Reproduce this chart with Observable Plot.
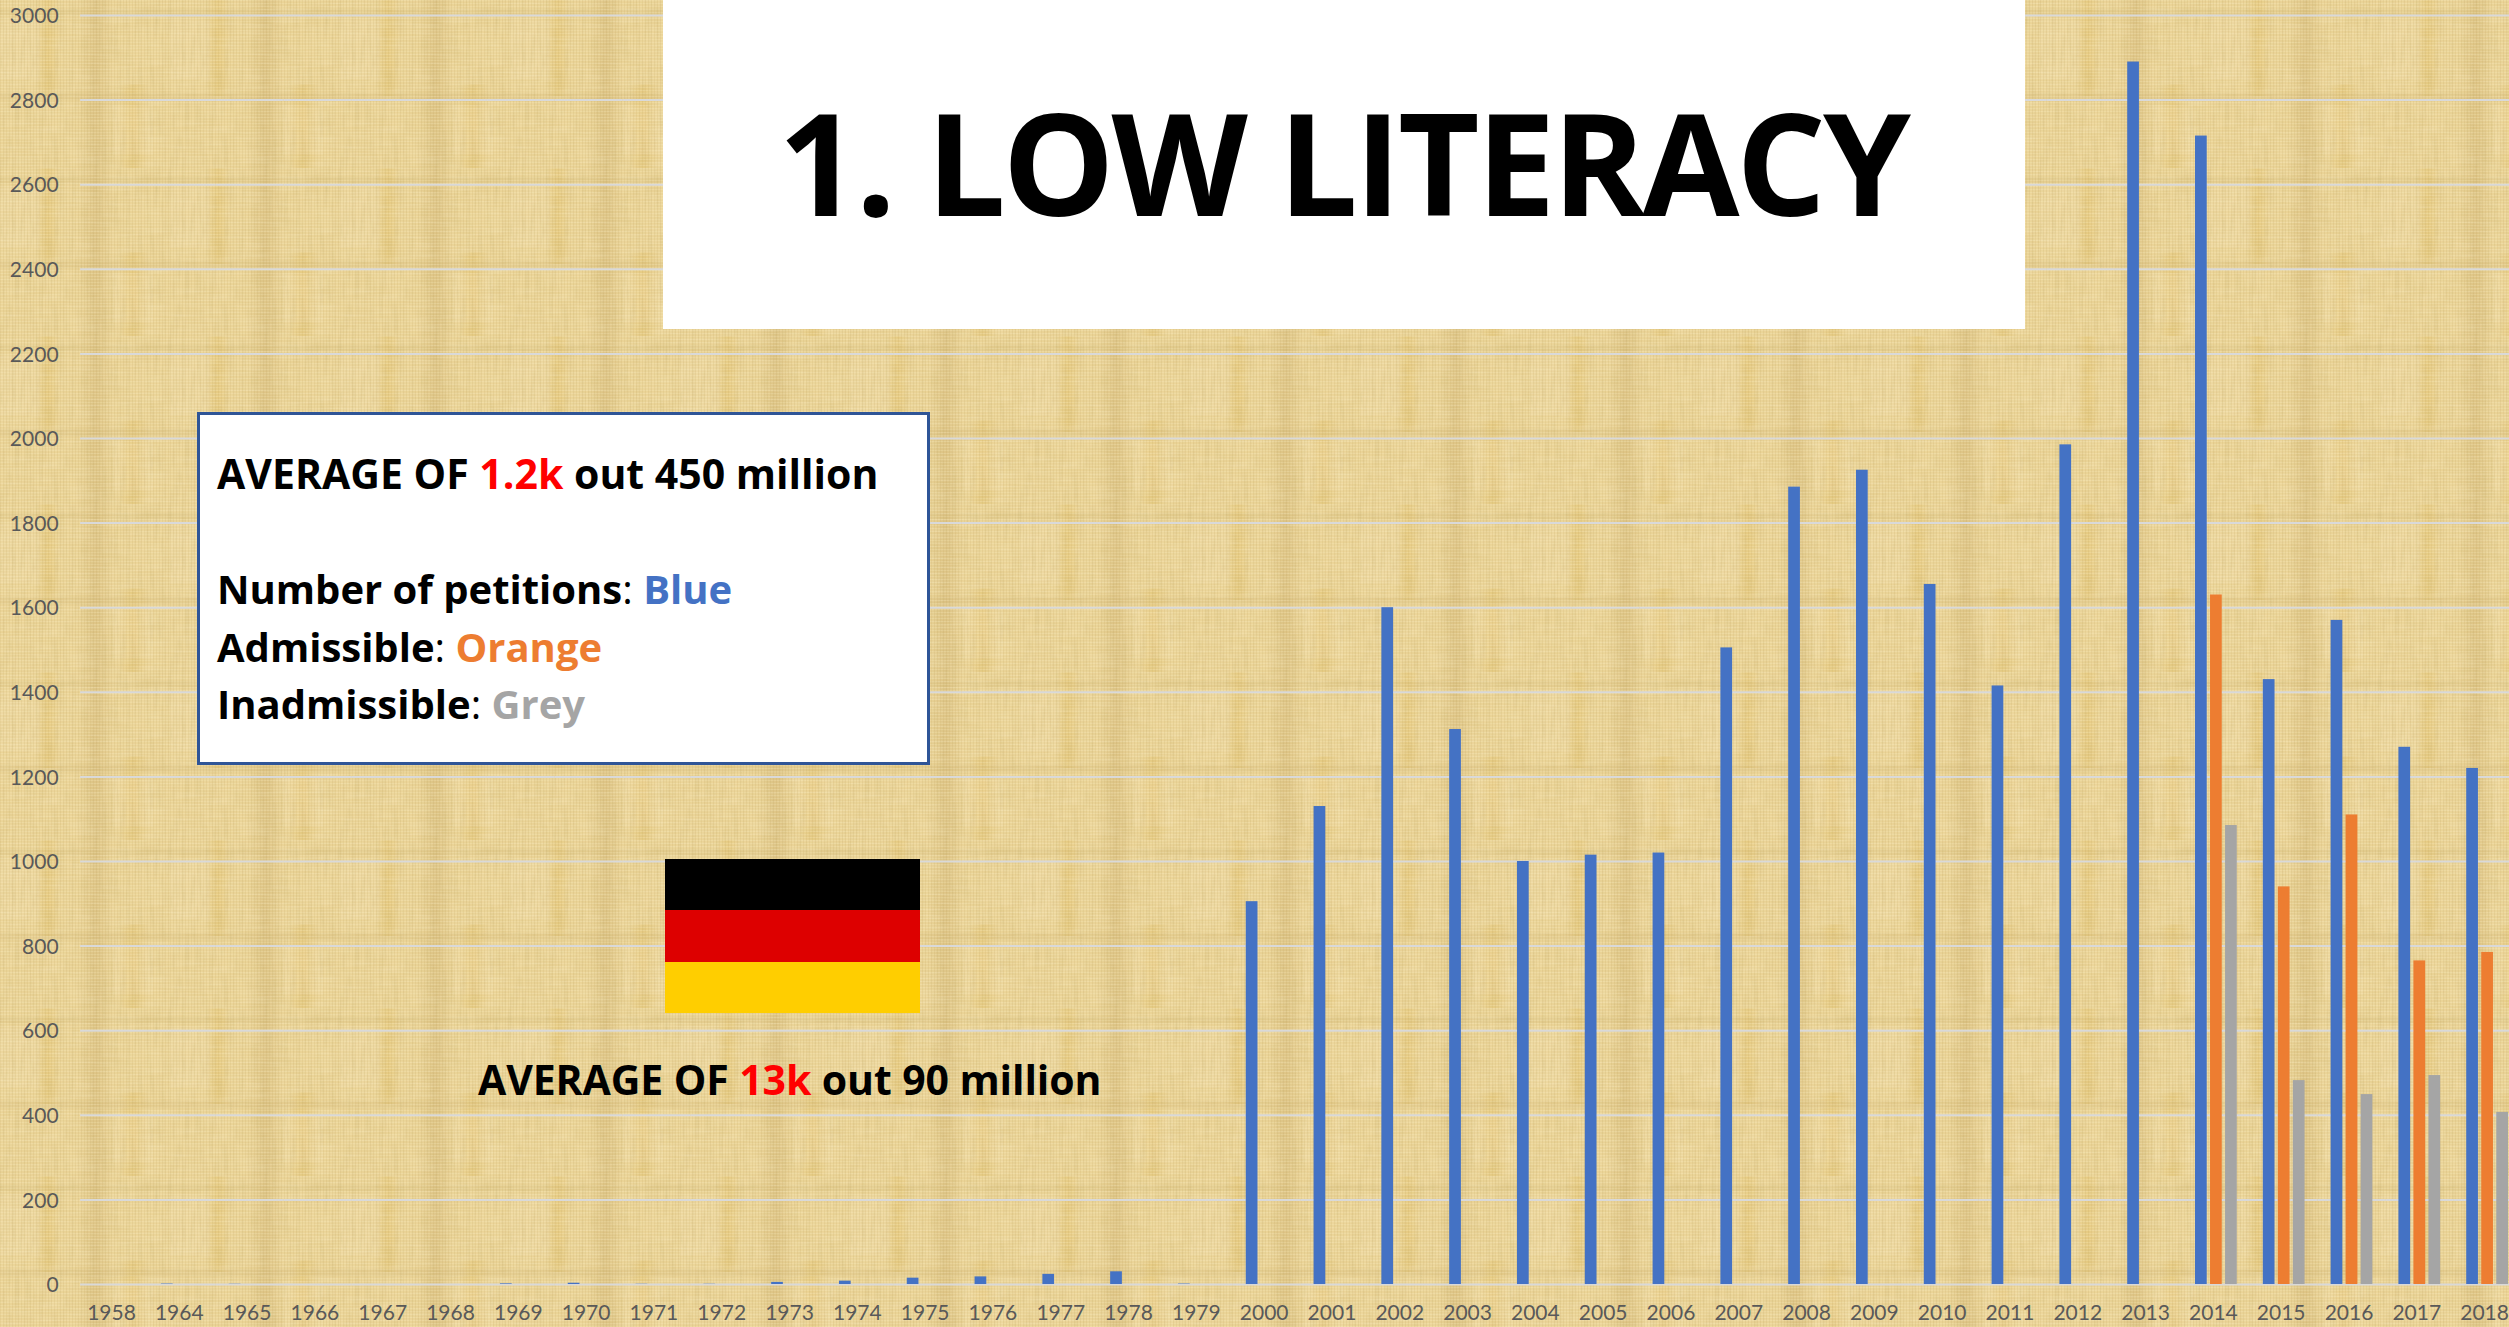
<!DOCTYPE html>
<html>
<head>
<meta charset="utf-8">
<script src="https://cdn.jsdelivr.net/npm/d3@7"></script>
<script src="https://cdn.jsdelivr.net/npm/@observablehq/plot@0.6"></script>
<style>
html,body{margin:0;padding:0;width:2509px;height:1327px;overflow:hidden}
body{position:relative;background-color:#ebd497;font-family:"Open Sans",sans-serif}
#chart{position:absolute;left:0;top:0}
.ov{position:absolute;color:#000;font-weight:700;white-space:nowrap}
.titlebox{left:663px;top:0;width:1362px;height:329px;background:#fff}
.titletext{left:0;width:1360px;text-align:center;top:65px;font-size:141px;line-height:192px;letter-spacing:-3.2px}
.note{left:197px;top:412px;width:727px;height:347px;background:#fff;border:3px solid #2f5597}
.line{font-size:40px;line-height:52px;position:absolute;left:17px}
.flag{left:665px;top:859px;width:255px;height:154px}
.flag div{height:33.34%}
.cap{left:478px;top:1053px;font-size:41px;line-height:52px;letter-spacing:-.1px}
.red{color:#ff0000}.blue{color:#4472c4}.orange{color:#ed7d31}.grey{color:#a5a5a5}
.reg{font-weight:400}
</style>
</head>
<body>
<div id="chart"></div>
<div class="ov titlebox"><div class="ov titletext">1. LOW LITERACY</div></div>
<div class="ov note">
  <div class="line" style="top:32px;font-size:41px">AVERAGE OF <span class="red">1.2k</span> out 450 million</div>
  <div class="line" style="top:148px">Number of petitions<span class="reg">:</span> <span class="blue">Blue</span></div>
  <div class="line" style="top:206px">Admissible<span class="reg">:</span> <span class="orange">Orange</span></div>
  <div class="line" style="top:263px">Inadmissible<span class="reg">:</span> <span class="grey">Grey</span></div>
</div>
<div class="ov flag"><div style="background:#000"></div><div style="background:#dd0000"></div><div style="background:#ffce00"></div></div>
<div class="ov cap">AVERAGE OF <span class="red">13k</span> out 90 million</div>
<script>
const years = ["1958","1964","1965","1966","1967","1968","1969","1970","1971","1972","1973","1974","1975","1976","1977","1978","1979","2000","2001","2002","2003","2004","2005","2006","2007","2008","2009","2010","2011","2012","2013","2014","2015","2016","2017","2018"];
const petitions = [0,1,0.5,0,0,0,1.5,3,0.5,0.5,5,8,15,18,24,30,1,905,1130,1600,1312,1000,1015,1020,1505,1885,1925,1655,1415,1985,2890,2715,1430,1570,1270,1220];
const admissibleYears = ["2014","2015","2016","2017","2018"];
const admissible = [1630,940,1110,765,785];
const inadmissible = [1085,482,449,494,407];
const seriesNames = ["Number of petitions","Admissible","Inadmissible"];
const seriesColors = ["#4472c4","#ed7d31","#a5a5a5"];
const yTicks = [0,200,400,600,800,1000,1200,1400,1600,1800,2000,2200,2400,2600,2800,3000];

// papyrus-like woven background tile
const tile = `<svg xmlns="http://www.w3.org/2000/svg" width="170" height="168">
<defs>
<filter id="v" x="0" y="0" width="100%" height="100%"><feTurbulence type="fractalNoise" baseFrequency="0.25 0.03" numOctaves="3" seed="4" stitchTiles="stitch"/><feColorMatrix values="0 0 0 0 0.55  0 0 0 0 0.42  0 0 0 0 0.15  1.6 0 0 0 -0.62"/></filter>
<filter id="h" x="0" y="0" width="100%" height="100%"><feTurbulence type="fractalNoise" baseFrequency="0.03 0.35" numOctaves="2" seed="9" stitchTiles="stitch"/><feColorMatrix values="0 0 0 0 1  0 0 0 0 0.93  0 0 0 0 0.72  1.6 0 0 0 -0.65"/></filter>
<pattern id="w" width="3" height="3" patternUnits="userSpaceOnUse"><rect width="3" height="1" fill="#fff3cc" opacity=".2"/><rect width="1" height="3" fill="#b79a55" opacity=".14"/></pattern>
<linearGradient id="g1" x1="0" x2="1" y1="0" y2="0"><stop offset="0" stop-color="#e0bd62" stop-opacity="0"/><stop offset=".5" stop-color="#e0bd62" stop-opacity=".4"/><stop offset="1" stop-color="#e0bd62" stop-opacity="0"/></linearGradient>
<linearGradient id="g2" x1="0" x2="1" y1="0" y2="0"><stop offset="0" stop-color="#bfa05c" stop-opacity="0"/><stop offset=".5" stop-color="#bfa05c" stop-opacity=".3"/><stop offset="1" stop-color="#bfa05c" stop-opacity="0"/></linearGradient>
</defs>
<rect width="170" height="168" fill="#ebd497"/>
<rect x="36" width="24" height="96" fill="url(#g1)"/>
<rect x="78" width="36" height="168" fill="url(#g2)"/>
<rect x="118" y="84" width="30" height="84" fill="url(#g1)"/>
<rect y="9" width="170" height="6" fill="#c9ac68" opacity=".16"/>
<rect y="93" width="170" height="7" fill="#c9ac68" opacity=".18"/>
<rect x="0" y="20" width="40" height="60" fill="#f3e0b2" opacity=".25"/>
<rect x="113" y="105" width="40" height="50" fill="#f3e0b2" opacity=".2"/>
<rect width="170" height="168" filter="url(#v)" opacity=".28"/>
<rect width="170" height="168" filter="url(#h)" opacity=".2"/>
<rect width="170" height="168" fill="url(#w)"/>
</svg>`;
document.body.style.backgroundImage = `url("data:image/svg+xml,${encodeURIComponent(tile)}")`;
document.body.style.backgroundPosition = "0 0";

const rows = [];
years.forEach((year, i) => rows.push({year, series: seriesNames[0], value: petitions[i]}));
admissibleYears.forEach((year, i) => {
  rows.push({year, series: seriesNames[1], value: admissible[i]});
  rows.push({year, series: seriesNames[2], value: inadmissible[i]});
});

const chart = Plot.plot({
  width: 2509,
  height: 1327,
  marginLeft: 80.1,
  marginRight: -12,
  marginTop: 15,
  marginBottom: 43,
  style: {background: "transparent", fontFamily: "Lato,sans-serif"},
  fx: {domain: years, padding: 0, round: false, label: null, axis: null},
  x: {domain: seriesNames, paddingInner: 0.22, paddingOuter: 0.867, round: false, axis: null},
  y: {domain: [0, 3000], label: null, axis: null},
  color: {domain: seriesNames, range: seriesColors},
  marks: [
    Plot.gridY(yTicks, {stroke: "#d9d9d9", strokeOpacity: 1, strokeWidth: 2}),
    Plot.barY(rows, {fx: "year", x: "series", y: "value", fill: "series"}),
    Plot.axisY({ticks: yTicks, anchor: "left", tickSize: 0, tickPadding: 22, fontSize: 21, fontFamily: "Lato", color: "#595959", tickFormat: d => String(d), label: null, dy: 1}),
    Plot.axisFx({anchor: "bottom", tickSize: 0, tickPadding: 21, fontSize: 21, fontFamily: "Lato", color: "#595959", label: null, dx: -3})
  ]
});
document.getElementById("chart").appendChild(chart);
</script>
</body>
</html>
